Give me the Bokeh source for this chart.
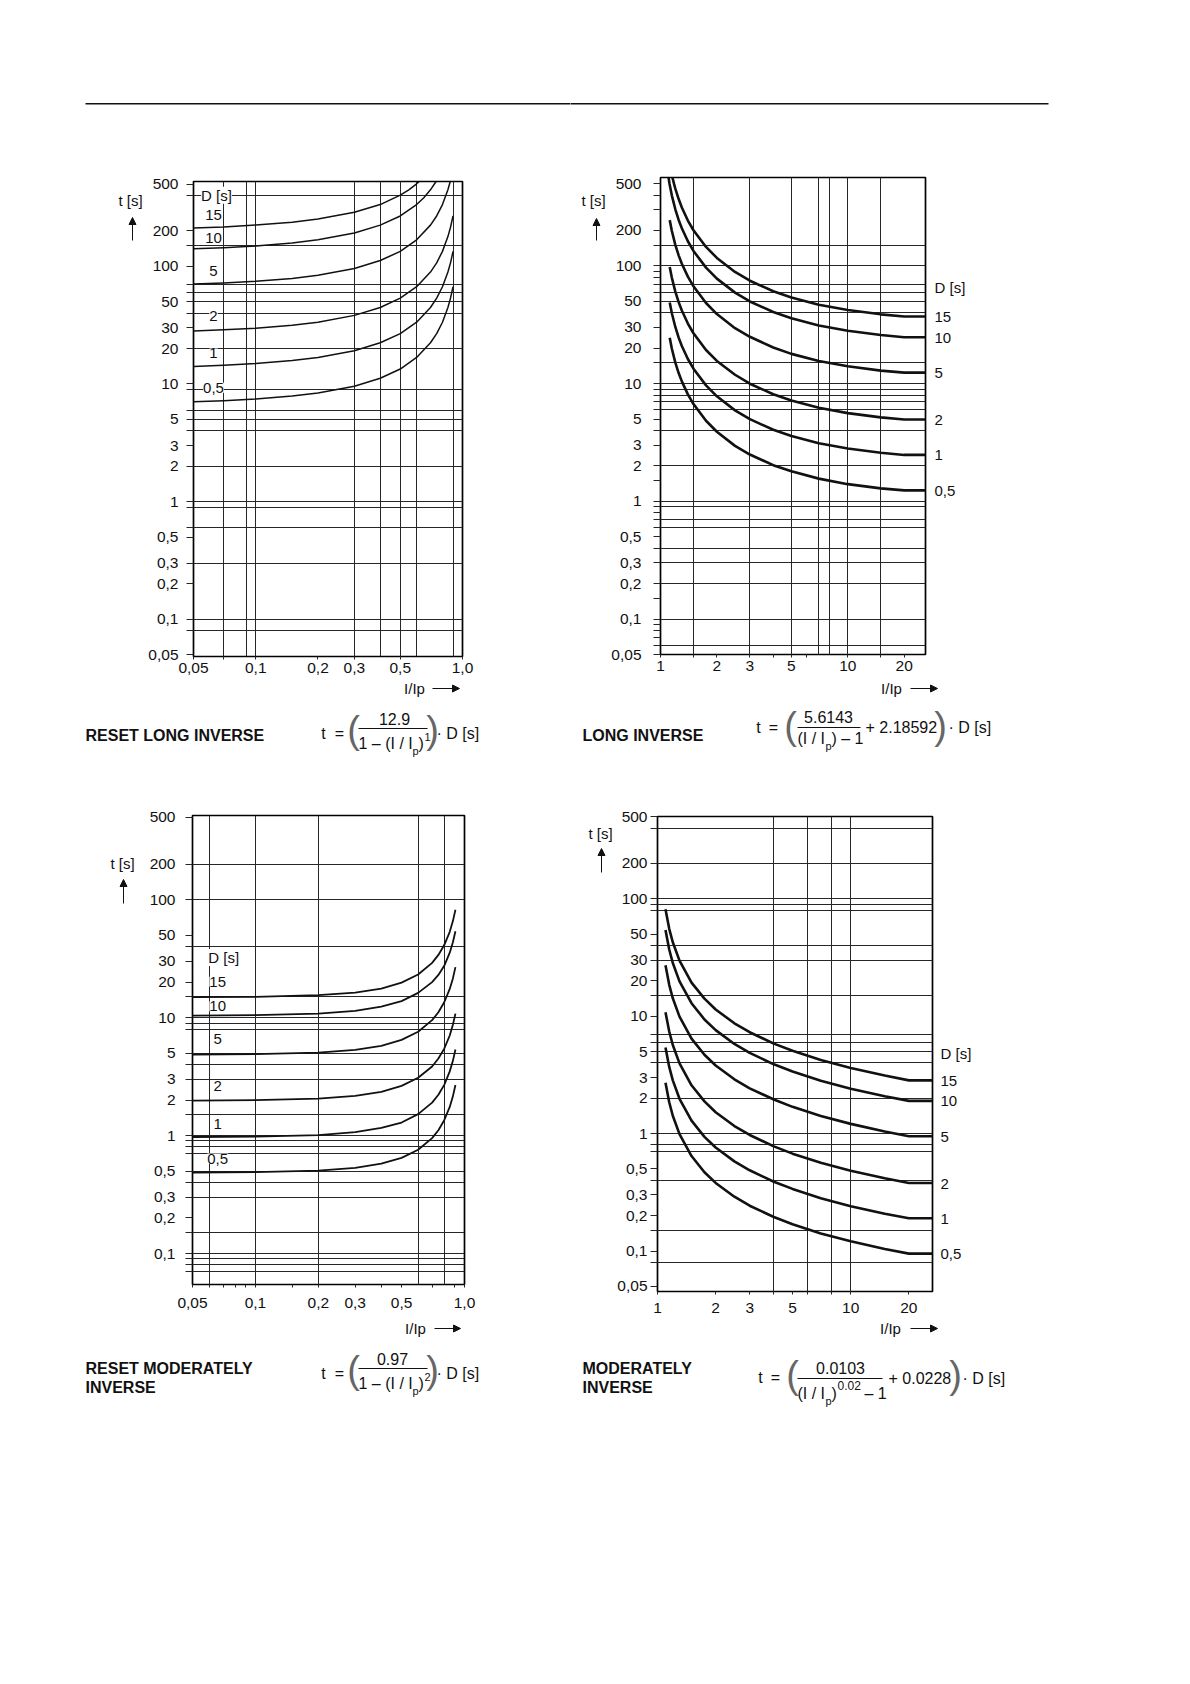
from bokeh.plotting import figure
from bokeh.models import (Range1d, FixedTicker, CustomJSTickFormatter, LogAxis,
                          Label, Arrow, NormalHead)
from bokeh.layouts import column, row
from bokeh.embed import file_html
from bokeh.resources import INLINE

FONT = "Liberation Sans"
INK = "#111111"
GRID_INK = "#262626"
TICK_SIZE = "15.5px"

# ---------------- shared tick labels / parameters ----------------
D_VALUES = [15, 10, 5, 2, 1, 0.5]
D_LABELS = ["15", "10", "5", "2", "1", "0,5"]
T_TICKS = [500, 200, 100, 50, 30, 20, 10, 5, 3, 2, 1, 0.5, 0.3, 0.2, 0.1, 0.05]
T_LABELS = ["500", "200", "100", "50", "30", "20", "10", "5", "3", "2", "1",
            "0,5", "0,3", "0,2", "0,1", "0,05"]
RESET_X_TICKS = [0.05, 0.1, 0.2, 0.3, 0.5, 1.0]
RESET_X_LABELS = ["0,05", "0,1", "0,2", "0,3", "0,5", "1,0"]
INV_X_TICKS = [1, 2, 3, 5, 10, 20]
INV_X_LABELS = ["1", "2", "3", "5", "10", "20"]

# ---------------- RESET LONG INVERSE (top left) ----------------
rli_x_15 = [0.05, 0.07, 0.1, 0.15, 0.2, 0.3, 0.4, 0.5, 0.55, 0.6, 0.617]
rli_t_15 = [212, 216, 224, 237, 252, 288, 335, 403, 447, 503, 526]
rli_x_10 = [0.05, 0.07, 0.1, 0.15, 0.2, 0.3, 0.4, 0.5, 0.6, 0.65, 0.7, 0.745]
rli_t_10 = [141, 144, 149, 158, 168, 192, 224, 268, 335, 383, 447, 526]
rli_x_5 = [0.05, 0.07, 0.1, 0.15, 0.2, 0.3, 0.4, 0.5, 0.6, 0.7, 0.75, 0.8, 0.85, 0.8725]
rli_t_5 = [70.6, 72.2, 74.6, 78.9, 83.9, 95.9, 112, 134, 168, 224, 268, 335, 447, 526]
rli_x = [0.05, 0.07, 0.1, 0.15, 0.2, 0.3, 0.4, 0.5, 0.6, 0.7, 0.75, 0.8, 0.85, 0.875, 0.9]
rli_t_2 = [28.2, 28.9, 29.8, 31.6, 33.5, 38.3, 44.7, 53.7, 67.1, 89.4, 107, 134, 179, 215, 268]
rli_t_1 = [14.1, 14.4, 14.9, 15.8, 16.8, 19.2, 22.4, 26.8, 33.5, 44.7, 53.7, 67.1, 89.4, 107, 134]
rli_t_05 = [7.06, 7.21, 7.45, 7.89, 8.38, 9.58, 11.2, 13.4, 16.8, 22.4, 26.8, 33.5, 44.7, 53.7, 67.1]
rli_grid_x = [0.07, 0.09, 0.1, 0.3, 0.4, 0.5, 0.6, 0.9]
rli_grid_t = [400, 150, 70, 60, 50, 40, 20, 9, 6, 5, 4, 2, 1, 0.9, 0.6, 0.3, 0.1, 0.08]
rli_minor_x = [0.07]

# ---------------- LONG INVERSE (top right) ----------------
li_x_15 = [1.158, 1.18, 1.2, 1.25, 1.3, 1.4, 1.5, 1.75, 2, 2.5, 3, 4, 5, 7, 10, 15, 20, 26]
li_t_15 = [564, 500, 454, 370, 314, 243, 201, 145, 117, 88.9, 74.9, 60.9, 53.9, 46.8, 42.2, 38.8, 37.2, 37.2]
li_x_10 = [1.105, 1.117, 1.15, 1.2, 1.25, 1.3, 1.4, 1.5, 1.75, 2, 2.5, 3, 4, 5, 7, 10, 15, 20, 26]
li_t_10 = [560, 500, 396, 303, 246, 209, 162, 134, 96.7, 78.0, 59.3, 49.9, 40.6, 35.9, 31.2, 28.1, 25.9, 24.8, 24.8]
li_x = [1.12, 1.15, 1.2, 1.25, 1.3, 1.4, 1.5, 1.75, 2, 2.5, 3, 4, 5, 7, 10, 15, 20, 26]
li_t_5 = [245, 198, 151, 123, 104.5, 81.1, 67.1, 48.4, 39.0, 29.6, 25.0, 20.3, 17.9, 15.6, 14.05, 12.9, 12.4, 12.4]
li_t_2 = [97.9, 79.2, 60.5, 49.3, 41.8, 32.4, 26.8, 19.3, 15.6, 11.9, 9.99, 8.12, 7.18, 6.24, 5.62, 5.17, 4.96, 4.96]
li_t_1 = [49.0, 39.6, 30.3, 24.6, 20.9, 16.2, 13.4, 9.67, 7.80, 5.93, 4.99, 4.06, 3.59, 3.12, 2.81, 2.59, 2.48, 2.48]
li_t_05 = [24.5, 19.8, 15.1, 12.3, 10.45, 8.11, 6.71, 4.84, 3.90, 2.96, 2.50, 2.03, 1.80, 1.56, 1.40, 1.29, 1.24, 1.24]
li_grid_x = [1.5, 3, 5, 7, 8, 10, 15]
li_grid_t = [150, 100, 70, 60, 50, 40, 15, 10, 9, 8, 7, 6, 4, 2, 1, 0.9, 0.7, 0.6, 0.4, 0.3, 0.2, 0.1, 0.06]
li_minor_x = [1.5, 4, 6, 15]
li_minor_t = [400, 300, 90, 80, 1.5, 0.8, 0.15, 0.09, 0.08, 0.07]

# ---------------- RESET MODERATELY INVERSE (bottom left) ----------------
rmi_x = [0.05, 0.1, 0.2, 0.3, 0.4, 0.5, 0.6, 0.7, 0.75, 0.8, 0.85, 0.88, 0.905]
rmi_t_15 = [14.9, 15.0, 15.5, 16.3, 17.6, 19.8, 23.2, 29.1, 34.0, 41.2, 53.4, 65.8, 82.0]
rmi_t_10 = [10.4, 10.5, 10.8, 11.4, 12.4, 13.8, 16.2, 20.0, 23.0, 27.5, 35.5, 43.5, 54.0]
rmi_t_5 = [4.86, 4.90, 5.05, 5.33, 5.77, 6.47, 7.58, 9.51, 11.1, 13.5, 17.5, 21.5, 26.8]
rmi_t_2 = [1.98, 2.0, 2.06, 2.17, 2.35, 2.64, 3.09, 3.85, 4.5, 5.45, 7.05, 8.7, 10.8]
rmi_t_1 = [0.972, 0.980, 1.01, 1.07, 1.16, 1.29, 1.52, 1.90, 2.22, 2.69, 3.50, 4.30, 5.36]
rmi_t_05 = [0.486, 0.490, 0.505, 0.533, 0.577, 0.647, 0.758, 0.951, 1.11, 1.35, 1.75, 2.15, 2.68]
rmi_grid_x = [0.06, 0.1, 0.2, 0.6, 0.8]
rmi_grid_t = [200, 100, 40, 15, 10, 9, 8, 5, 4, 3, 1.5, 1, 0.9, 0.8, 0.7, 0.5, 0.4, 0.3,
              0.15, 0.1, 0.09, 0.08, 0.07]
rmi_minor_x = [0.06, 0.07, 0.08, 0.09, 0.15, 0.4, 0.7, 0.9]

# ---------------- MODERATELY INVERSE (bottom right) ----------------
mi_x = [1.1, 1.15, 1.2, 1.3, 1.5, 1.75, 2, 2.5, 3, 4, 5, 7, 10, 15, 20, 26.5]
mi_t_15 = [81.3, 55.5, 42.6, 29.7, 19.3, 14.1, 11.4, 8.70, 7.30, 5.84, 5.07, 4.24, 3.62, 3.12, 2.84, 2.84]
mi_t_10 = [54.2, 37.0, 28.4, 19.8, 12.9, 9.38, 7.61, 5.80, 4.87, 3.89, 3.38, 2.82, 2.41, 2.08, 1.90, 1.90]
mi_t_5 = [27.1, 18.5, 14.2, 9.91, 6.44, 4.69, 3.80, 2.90, 2.43, 1.95, 1.69, 1.41, 1.21, 1.04, 0.95, 0.95]
mi_t_2 = [10.8, 7.41, 5.68, 3.96, 2.58, 1.88, 1.52, 1.16, 0.973, 0.778, 0.675, 0.565, 0.483, 0.416, 0.379, 0.379]
mi_t_1 = [5.42, 3.70, 2.84, 1.98, 1.29, 0.938, 0.761, 0.580, 0.487, 0.389, 0.338, 0.282, 0.241, 0.208, 0.190, 0.190]
mi_t_05 = [2.71, 1.85, 1.42, 0.990, 0.644, 0.469, 0.380, 0.290, 0.243, 0.195, 0.169, 0.141, 0.121, 0.104, 0.095, 0.095]
mi_grid_x = [4, 6, 8, 10]
mi_grid_t = [400, 200, 100, 90, 80, 40, 30, 15, 7, 6, 5, 4, 2, 1, 0.8, 0.7, 0.4, 0.15, 0.08]
mi_minor_x = [4, 6, 8]


def tick_formatter(vals, labs):
    return CustomJSTickFormatter(args=dict(vals=list(vals), labs=list(labs)), code="""
        for (let i = 0; i < vals.length; i++) {
            if (Math.abs(vals[i] - tick) <= 1e-6 * Math.abs(vals[i])) { return labs[i]; }
        }
        return "";
    """)


# ---------- text canvases: data coordinates are page pixels (y downward) ----------
class TextBox:
    def __init__(self, x0, y0, w, h, ftop=None, fbot=None):
        # ftop/fbot: page y of the frame edges (used when the box sits in a row
        # next to a chart, whose frame it is aligned with)
        ftop = y0 if ftop is None else ftop
        fbot = y0 + h if fbot is None else fbot
        p = figure(width=w, height=h, x_range=Range1d(x0, x0 + w), y_range=Range1d(fbot, ftop),
                   output_backend="svg", toolbar_location=None, min_border=0,
                   min_border_top=ftop - y0, min_border_bottom=y0 + h - fbot,
                   x_axis_location=None, y_axis_location=None)
        p.grid.visible = False
        p.outline_line_color = None
        p.background_fill_color = "white"
        p.border_fill_color = "white"
        self.p = p

    def text(self, X, Y, s, size=16, align="left", bold=False, color=INK):
        self.p.add_layout(Label(x=X, y=Y, text=s, text_align=align, text_baseline="middle",
                                text_font=FONT, text_font_size=f"{size}px",
                                text_font_style="bold" if bold else "normal",
                                text_color=color))

    def seg(self, X1, Y1, X2, Y2, head=False, width=1.0):
        end = NormalHead(size=7, fill_color=INK, line_color=INK, line_width=1) if head else None
        self.p.add_layout(Arrow(x_start=X1, y_start=Y1, x_end=X2, y_end=Y2,
                                end=end, line_color=INK, line_width=width))


class Panel:
    def __init__(self, canvas, frame, x_rng, y_rng, grid_x, grid_t,
                 x_ticks, x_labels, x_minor, t_minor, y_standoff, x_standoff):
        ox, oy, w, h = canvas
        L, T, R, B = frame
        p = figure(width=w, height=h, x_axis_type="log", y_axis_type="log",
                   x_range=Range1d(*x_rng), y_range=Range1d(*y_rng),
                   output_backend="svg", toolbar_location=None,
                   min_border_left=L - ox, min_border_right=ox + w - R,
                   min_border_top=T - oy, min_border_bottom=oy + h - B)
        p.background_fill_color = "white"
        p.border_fill_color = "white"
        p.outline_line_color = "black"
        p.outline_line_width = 1.7
        for g, vals in ((p.xgrid, grid_x), (p.ygrid, grid_t)):
            g.ticker = FixedTicker(ticks=vals, minor_ticks=[])
            g.grid_line_color = GRID_INK
            g.grid_line_width = 1
            g.grid_line_alpha = 1.0
        xt = sorted(set(list(x_ticks) + list(x_minor)))
        p.xaxis.ticker = FixedTicker(ticks=xt, minor_ticks=[])
        p.xaxis.formatter = tick_formatter(x_ticks, x_labels)
        yt = sorted(set(list(T_TICKS) + list(grid_t) + list(t_minor)))
        p.yaxis.ticker = FixedTicker(ticks=yt, minor_ticks=[])
        p.yaxis.formatter = tick_formatter(T_TICKS, T_LABELS)
        for ax in (p.xaxis, p.yaxis):
            ax.axis_line_color = None
            ax.major_tick_line_color = GRID_INK
            ax.major_tick_line_width = 1
            ax.major_tick_in = 0
            ax.minor_tick_line_color = None
            ax.major_label_text_font = FONT
            ax.major_label_text_font_size = TICK_SIZE
            ax.major_label_text_color = INK
        p.xaxis.major_tick_out = 3
        p.yaxis.major_tick_out = 7
        p.xaxis.major_label_standoff = x_standoff
        p.yaxis.major_label_standoff = y_standoff
        self.p = p

    def curve(self, x, t, width):
        self.p.line(x, t, line_color=INK, line_width=width, line_join="round")

    def tag(self, x, t, s):
        self.p.add_layout(Label(x=x, y=t, text=s, text_align="center", text_baseline="middle",
                                text_font=FONT, text_font_size="15px", text_color=INK,
                                background_fill_color="white"))

    def right_tags(self, ends, d_pos, standoff):
        ax = LogAxis(ticker=FixedTicker(ticks=list(ends) + [d_pos], minor_ticks=[]),
                     formatter=tick_formatter(list(ends) + [d_pos], D_LABELS + ["D [s]"]))
        ax.axis_line_color = None
        ax.major_tick_line_color = None
        ax.major_tick_out = 0
        ax.major_tick_in = 0
        ax.minor_tick_line_color = None
        ax.major_label_standoff = standoff
        ax.major_label_text_font = FONT
        ax.major_label_text_font_size = "15px"
        ax.major_label_text_color = INK
        self.p.add_layout(ax, "right")


def t_axis_name(box, X, Y, ax_x, y_tail, y_tip):
    box.text(X, Y, "t [s]", size=15, align="center")
    box.seg(ax_x, y_tail, ax_x, y_tip, head=True)


def i_axis_name(box, X, Y, x_tail, x_tip):
    box.text(X, Y, "I/Ip", size=15, align="center")
    box.seg(x_tail, Y, x_tip, Y, head=True)


PAREN = dict(size=38, align="center", color="#666666")

# ================= quadrant 1 : RESET LONG INVERSE =================
T1 = TextBox(0, 0, 570, 171)
T1.seg(85, 103.3, 575, 103.3, width=1.5)
L1 = TextBox(0, 171, 144, 510, 181, 656)
t_axis_name(L1, 130, 200, 132, 240, 217)
P1 = Panel((144, 171, 426, 510), (193, 181, 462, 656), (0.05, 1.0), (0.0483, 526),
           rli_grid_x, rli_grid_t, RESET_X_TICKS, RESET_X_LABELS, rli_minor_x, [], 8, 3)
for x, t in ((rli_x_15, rli_t_15), (rli_x_10, rli_t_10), (rli_x_5, rli_t_5),
             (rli_x, rli_t_2), (rli_x, rli_t_1), (rli_x, rli_t_05)):
    P1.curve(x, t, 1.5)
P1.tag(0.0646, 402, "D [s]")
for ty, lab in zip([274, 173, 91.6, 37.6, 18.2, 9.27], D_LABELS):
    P1.tag(0.0625, ty, lab)
B1 = TextBox(0, 681, 570, 99)
i_axis_name(B1, 414, 688, 432, 459)
B1.text(85, 735, "RESET LONG INVERSE", size=16, bold=True)
B1.text(323, 733, "t", align="center")
B1.text(339, 733, "=", align="center")
B1.text(353, 729, "(", **PAREN)
B1.text(394, 718, "12.9", align="center")
B1.seg(358, 728, 427, 728)
B1.text(358, 743, "1 \u2013 (I / I")
B1.text(412, 750, "p", size=11)
B1.text(418, 743, ")")
B1.text(424, 736, "1", size=11)
B1.text(432, 729, ")", **PAREN)
B1.text(436, 733, "\u00b7 D   [s]")
Q1 = column(T1.p, row(L1.p, P1.p), B1.p)

# ================= quadrant 2 : LONG INVERSE =================
T2 = TextBox(570, 0, 612, 167)
T2.seg(565, 103.3, 1048, 103.3, width=1.5)
L2 = TextBox(570, 167, 38, 513, 177, 654)
t_axis_name(L2, 593, 200, 596, 240, 218)
P2 = Panel((608, 167, 574, 513), (660, 177, 925, 654), (1, 26), (0.05, 564),
           li_grid_x, li_grid_t, INV_X_TICKS, INV_X_LABELS, li_minor_x, li_minor_t, 12, 3)
for x, t in ((li_x_15, li_t_15), (li_x_10, li_t_10), (li_x, li_t_5),
             (li_x, li_t_2), (li_x, li_t_1), (li_x, li_t_05)):
    P2.curve(x, t, 2.6)
P2.right_tags([li_t_15[-1], li_t_10[-1], li_t_5[-1], li_t_2[-1], li_t_1[-1], li_t_05[-1]], 65, 9)
B2 = TextBox(570, 680, 612, 100)
i_axis_name(B2, 891, 688, 910, 937)
B2.text(582, 735, "LONG INVERSE", size=16, bold=True)
B2.text(758, 727, "t", align="center")
B2.text(773, 727, "=", align="center")
B2.text(790, 725, "(", **PAREN)
B2.text(828, 716, "5.6143", align="center")
B2.seg(797, 727, 860, 727)
B2.text(797, 738, "(I / I")
B2.text(825, 745, "p", size=11)
B2.text(831, 738, ") \u2013 1")
B2.text(865, 727, "+ 2.18592")
B2.text(940, 725, ")", **PAREN)
B2.text(948, 727, "\u00b7 D  [s]")
Q2 = column(T2.p, row(L2.p, P2.p), B2.p)

# ================= quadrant 3 : RESET MODERATELY INVERSE =================
T3 = TextBox(0, 780, 570, 25)
L3 = TextBox(0, 805, 142, 515, 815, 1284)
t_axis_name(L3, 122, 863, 123, 903, 879)
P3 = Panel((142, 805, 428, 515), (192, 815, 464, 1284), (0.05, 1.0), (0.0546, 517),
           rmi_grid_x, rmi_grid_t, RESET_X_TICKS, RESET_X_LABELS, rmi_minor_x, [], 10, 10)
for t in (rmi_t_15, rmi_t_10, rmi_t_5, rmi_t_2, rmi_t_1, rmi_t_05):
    P3.curve(rmi_x, t, 1.8)
P3.tag(0.0705, 32.3, "D [s]")
for ty, lab in zip([20.1, 12.5, 6.6, 2.62, 1.25, 0.638], D_LABELS):
    P3.tag(0.066, ty, lab)
B3 = TextBox(0, 1320, 570, 100)
i_axis_name(B3, 415, 1328, 434, 460)
B3.text(85, 1368, "RESET MODERATELY", size=16, bold=True)
B3.text(85, 1387, "INVERSE", size=16, bold=True)
B3.text(323, 1373, "t", align="center")
B3.text(339, 1373, "=", align="center")
B3.text(353, 1369, "(", **PAREN)
B3.text(392, 1358, "0.97", align="center")
B3.seg(358, 1368, 427, 1368)
B3.text(358, 1383, "1 \u2013 (I / I")
B3.text(412, 1390, "p", size=11)
B3.text(418, 1383, ")")
B3.text(424, 1376, "2", size=11)
B3.text(432, 1369, ")", **PAREN)
B3.text(436, 1373, "\u00b7 D   [s]")
Q3 = column(T3.p, row(L3.p, P3.p), B3.p)

# ================= quadrant 4 : MODERATELY INVERSE =================
T4 = TextBox(570, 780, 612, 26)
L4 = TextBox(570, 806, 44, 514, 816, 1291)
t_axis_name(L4, 600, 833, 601, 872, 848)
P4 = Panel((614, 806, 568, 514), (657, 816, 932, 1291), (1, 26.5), (0.0452, 502),
           mi_grid_x, mi_grid_t, INV_X_TICKS, INV_X_LABELS, mi_minor_x, [], 3, 8)
for t in (mi_t_15, mi_t_10, mi_t_5, mi_t_2, mi_t_1, mi_t_05):
    P4.curve(mi_x, t, 2.6)
P4.right_tags([mi_t_15[-1], mi_t_10[-1], mi_t_5[-1], mi_t_2[-1], mi_t_1[-1], mi_t_05[-1]], 4.8, 8)
B4 = TextBox(570, 1320, 612, 100)
i_axis_name(B4, 890, 1328, 910, 937)
B4.text(582, 1368, "MODERATELY", size=16, bold=True)
B4.text(582, 1387, "INVERSE", size=16, bold=True)
B4.text(760, 1377, "t", align="center")
B4.text(775, 1377, "=", align="center")
B4.text(792, 1374, "(", **PAREN)
B4.text(840, 1367, "0.0103", align="center")
B4.seg(797, 1378, 882, 1378)
B4.text(797, 1393, "(I / I")
B4.text(825, 1400, "p", size=11)
B4.text(831, 1393, ")")
B4.text(837, 1385, "0.02", size=12)
B4.text(864, 1393, "\u2013 1")
B4.text(888, 1378, "+ 0.0228")
B4.text(955, 1374, ")", **PAREN)
B4.text(962, 1378, "\u00b7 D  [s]")
Q4 = column(T4.p, row(L4.p, P4.p), B4.p)

layout = column(row(Q1, Q2), row(Q3, Q4))
open("out.html", "w").write(file_html(layout, INLINE))
